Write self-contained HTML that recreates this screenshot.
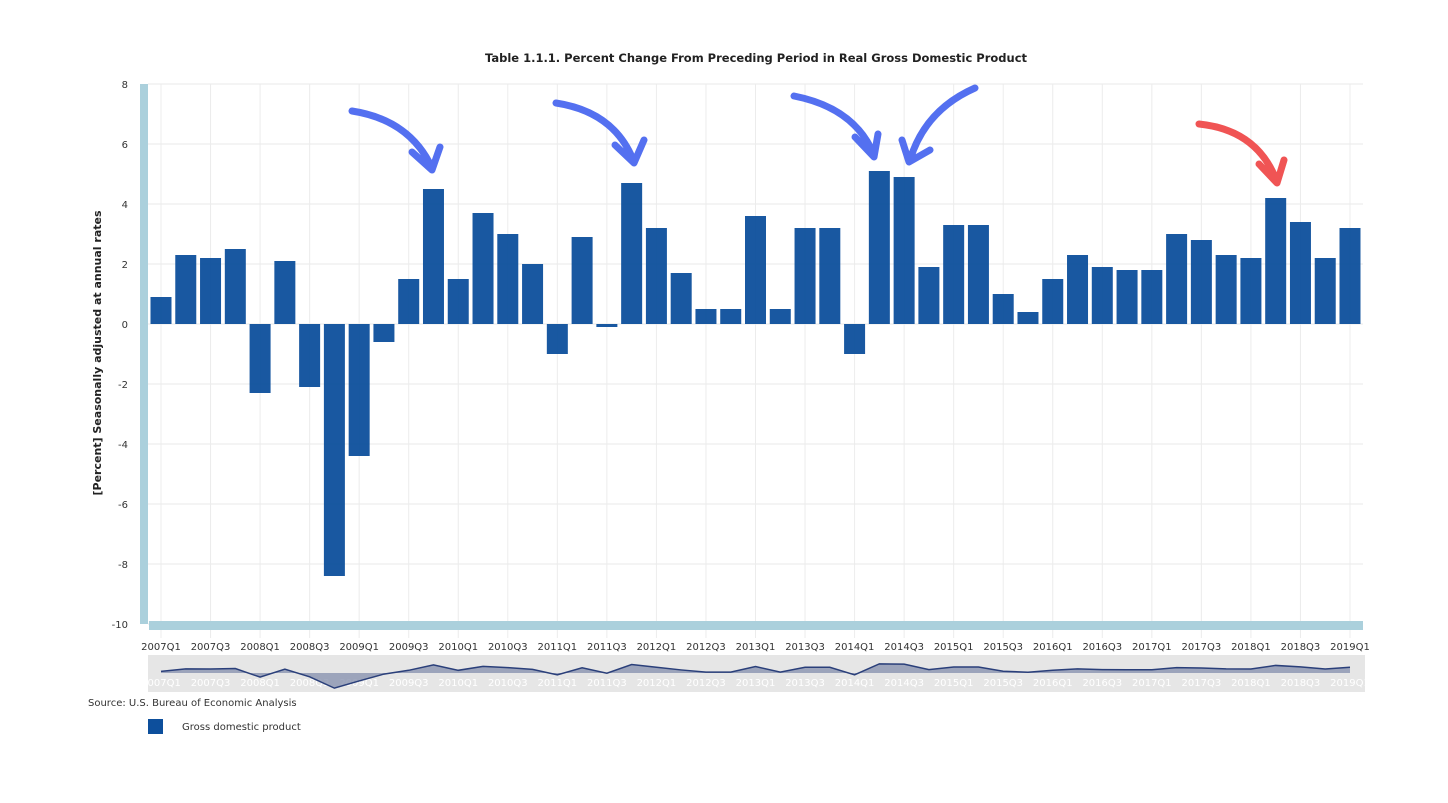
<!DOCTYPE html>
<html><head><meta charset="utf-8">
<style>
body{margin:0;background:#fff;width:1448px;height:798px;overflow:hidden;font-family:"Liberation Sans","DejaVu Sans",sans-serif}
svg text{font-family:"DejaVu Sans","Liberation Sans",sans-serif}
</style></head>
<body>
<svg id="chart" width="1448" height="798" xmlns="http://www.w3.org/2000/svg">
<text x="756" y="62" text-anchor="middle" font-size="11.5" font-weight="bold" fill="#222">Table 1.1.1. Percent Change From Preceding Period in Real Gross Domestic Product</text>
<g id="grid"></g>
<rect x="140" y="84" width="8" height="540" fill="#abd0dc"/>
<rect x="149" y="621" width="1214" height="9" fill="#abd0dc"/>
<g id="bars"></g>
<g id="ylabels"></g>
<g id="xlabels"></g>
<text transform="translate(101,353) rotate(-90)" text-anchor="middle" font-size="11" font-weight="bold" fill="#222">[Percent] Seasonally adjusted at annual rates</text>
<rect x="148" y="655" width="1217" height="37" fill="#e6e6e6"/>
<g id="nav"></g>
<text x="88" y="706" font-size="10" fill="#333">Source: U.S. Bureau of Economic Analysis</text>
<rect x="148" y="719" width="15" height="15" fill="#0d4f9c"/>
<text x="182" y="730" font-size="10" fill="#333">Gross domestic product</text>
<g fill="none" stroke-width="7" stroke-linecap="round" stroke-linejoin="round">
<path d="M352,111 Q410,120 432,168 M412,152 L432,170 L440,147" stroke="#5470f0"/>
<path d="M556,103 Q615,112 634,162 M615,145 L634,163 L644,140" stroke="#5470f0"/>
<path d="M794,96 Q855,108 874,155 M855,137 L874,157 L878,134" stroke="#5470f0"/>
<path d="M975,88 Q925,110 910,160 M902,140 L909,162 L930,150" stroke="#5470f0"/>
<path d="M1199,124 Q1258,130 1277,182 M1259,164 L1277,183 L1284,160" stroke="#f05454"/>
</g>
</svg>
<script>
const categories=[];for(let y=2007;y<=2019;y++)for(let q=1;q<=4;q++){if(y===2019&&q>1)break;categories.push(y+"Q"+q);}
const values=[0.9,2.3,2.2,2.5,-2.3,2.1,-2.1,-8.4,-4.4,-0.6,1.5,4.5,1.5,3.7,3.0,2.0,-1.0,2.9,-0.1,4.7,3.2,1.7,0.5,0.5,3.6,0.5,3.2,3.2,-1.0,5.1,4.9,1.9,3.3,3.3,1.0,0.4,1.5,2.3,1.9,1.8,1.8,3.0,2.8,2.3,2.2,4.2,3.4,2.2,3.2];
const yTicks=[8,6,4,2,0,-2,-4,-6,-8,-10];
const NS="http://www.w3.org/2000/svg";
const yScale=v=>324-(v*30);
const step=(1350-161)/48;
const xScale=i=>161+i*step;
const navY=v=>673-v*1.8;
function mk(tag,attrs,parent){const e=document.createElementNS(NS,tag);for(const k in attrs)e.setAttribute(k,attrs[k]);document.getElementById(parent).appendChild(e);return e;}
yTicks.forEach(t=>{
 const l=mk("line",{x1:148,x2:1363,y1:yScale(t),y2:yScale(t),stroke:"#e8e8e8","stroke-width":1},"grid");
 
 
 const tx=mk("text",{x:128,y:yScale(t)+4,"text-anchor":"end","font-size":"10",fill:"#333"},"ylabels");
 tx.textContent=t;
 
 
});
categories.forEach((c,i)=>{
 if(i%2===0){
  const g=mk("line",{x1:xScale(i),x2:xScale(i),y1:84,y2:638,stroke:"#ececec","stroke-width":1},"grid");
  
  
  const t=mk("text",{x:xScale(i),y:650,"text-anchor":"middle","font-size":"10",fill:"#333"},"xlabels");
  t.textContent=c;
  
  
  const n=mk("text",{x:xScale(i),y:686,"text-anchor":"middle","font-size":"10",fill:"#fff"},"nav");
  n.textContent=c;
  
  
 }
 const v=values[i];
 const y0=yScale(0),y1=yScale(v);
 const b=mk("rect",{x:xScale(i)-10.5,y:Math.min(y0,y1),width:21,height:Math.max(1,Math.abs(y1-y0)),fill:"#0d4f9c","fill-opacity":"0.95"},"bars");
 
 
});
let d="",a="M"+xScale(0)+","+navY(0);
values.forEach((v,i)=>{d+=(i?"L":"M")+xScale(i)+","+navY(v);a+="L"+xScale(i)+","+navY(v);});
a+="L"+xScale(values.length-1)+","+navY(0)+"Z";
const area=mk("path",{d:a,fill:"#8a93b0","fill-opacity":"0.8"},"nav");


const ln=mk("path",{d:d,fill:"none",stroke:"#2a3f7a","stroke-width":1.5},"nav");


</script>
</body></html>
